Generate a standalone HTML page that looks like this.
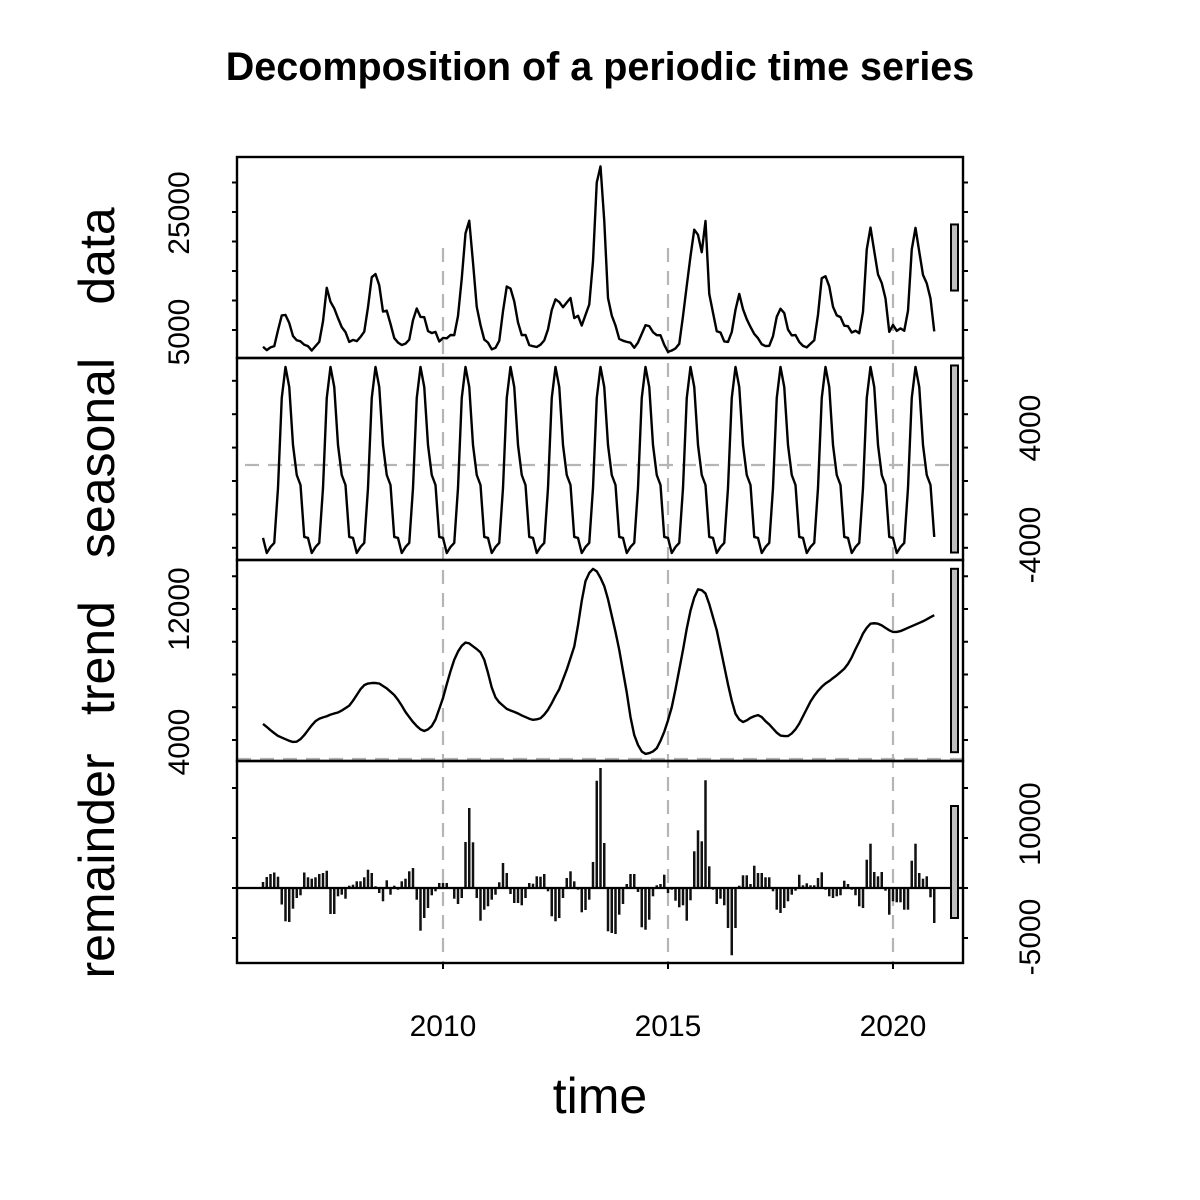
<!DOCTYPE html>
<html><head><meta charset="utf-8"><style>
html,body{margin:0;padding:0;background:#fff;}
svg{display:block;font-family:"Liberation Sans",Arial,sans-serif;}
</style></head><body>
<svg id="chart" width="1200" height="1200" viewBox="0 0 1200 1200">
<text x="600" y="80" text-anchor="middle" font-size="39.5" font-weight="bold">Decomposition of a periodic time series</text>
<g id="plot"></g>
</svg>
<script>
// ---- data ----
const startYear = 2006;
const seasonalPattern = [-3410,-4310,-3950,-3710,-420,4970,6830,5630,2160,360,-240,-3350];
const trendValues = [
4980,4800,4600,4420,4250,4150,4050,3950,3880,3900,4050,4300,
4600,4900,5150,5300,5380,5450,5550,5620,5680,5800,5950,6100,
6400,6750,7100,7350,7450,7480,7480,7450,7300,7150,6950,6750,
6450,6100,5710,5400,5100,4850,4650,4550,4650,4850,5250,5900,
6560,7400,8200,8900,9400,9750,9950,9900,9720,9550,9350,8900,
8100,7200,6600,6300,6100,5900,5800,5720,5620,5500,5400,5300,
5230,5260,5330,5550,5850,6250,6700,7100,7700,8300,9000,9700,
11000,12500,13700,14200,14450,14300,13900,13400,12600,11600,10600,9500,
8200,6900,5400,4300,3700,3300,3150,3200,3300,3500,3950,4500,
5200,6000,7100,8300,9500,10800,11900,12700,13200,13150,12950,12300,
11500,10700,9600,8500,7400,6400,5600,5250,5100,5200,5350,5450,
5520,5400,5150,4950,4700,4450,4270,4240,4240,4400,4650,5000,
5450,5900,6350,6700,7000,7250,7450,7600,7780,7950,8150,8350,
8650,9050,9550,10000,10500,10850,11100,11130,11100,11000,10850,10700,
10600,10600,10650,10750,10850,10950,11050,11150,11250,11370,11500,11620];
const remainderValues = [
600,1100,1400,1550,1130,-1650,-3330,-3400,-2070,-1000,-730,1550,
1070,930,1070,1400,1500,1730,-2600,-2600,-830,-670,-1070,230,
330,670,670,1070,1830,1500,170,-500,-1330,770,-670,230,
-170,670,930,1670,2000,-1170,-4270,-3000,-2000,-730,-330,500,
500,500,-100,-1070,-1600,-1000,4600,8000,4570,-1000,-3270,-2170,
-1830,-1170,-670,570,2500,1500,-600,-1500,-1500,-1730,-1000,500,
430,1170,1130,1400,-330,-2830,-3330,-3000,-1000,1000,1670,670,
-170,-2430,-2200,-1170,2600,10730,12000,4500,-4330,-4500,-4600,-2670,
-1600,400,1400,1400,-400,-3930,-4170,-3170,-830,270,400,1330,
-500,-170,-1270,-1930,-1730,-3270,-1230,3670,5770,4670,10770,2170,
-170,-1600,-1070,-1730,-4000,-6730,-4000,230,1270,1270,400,2230,
1500,1500,1070,1070,-330,-2170,-2500,-2000,-1330,-670,-270,1330,
270,470,270,270,1000,1570,-170,-830,-1000,-830,-730,730,
400,-170,-730,-1830,-2000,2830,4430,1600,1170,1600,-270,-2670,
-1330,-1430,-1430,-2170,-2170,2730,4430,1500,930,1170,-930,-3500];
const xTickYears = [2010, 2015, 2020];
const dataTicks = [5000,10000,15000,20000,25000,30000];
const dataTickLabels = ["5000","25000"];
const seasonalTicks = [-4000,-2000,0,2000,4000,6000];
const seasonalTickLabels = ["4000","-4000"];
const trendTicks = [4000,6000,8000,10000,12000,14000];
const trendTickLabels = ["12000","4000"];
const remainderTicks = [-5000,0,5000,10000];
const remainderTickLabels = ["10000","-5000"];
const rangeBarSize = 11200;

// ---- scales ----
const X0 = 237, X1 = 963;
function xScale(t){ return 443 + (t - 2010) * 45; }
function yData(v){ return 330 - (v - 5000) * 29.5 / 5000; }
function ySeasonal(v){ return 481 - v * 33.4 / 2000; }
function yTrend(v){ return 740 - (v - 4000) * 32.75 / 2000; }
function yRemainder(v){ return 888 - v * 0.01; }

const NS = "http://www.w3.org/2000/svg";
const plot = document.getElementById('plot');
function mk(tag, attrs, parent){
  const el = document.createElementNS(NS, tag);
  for (const k in attrs) el.setAttribute(k, attrs[k]);
  (parent || plot).appendChild(el);
  return el;
}
const N = trendValues.length;
const seasonalValues = [], dataValues = [], times = [];
for (let i = 0; i < N; i++) {
  times.push(startYear + i / 12);
  seasonalValues.push(seasonalPattern[i % 12]);
  dataValues.push(seasonalPattern[i % 12] + trendValues[i] + remainderValues[i]);
}

// grid dashed lines
const dash = {stroke:'#b5b5b5','stroke-width':2.2,'stroke-dasharray':'14 9',fill:'none'};
xTickYears.forEach(yr => {
  const g = mk('line', Object.assign({x1:xScale(yr),x2:xScale(yr),y1:248,y2:963}, dash));
  
  
});
let hg = mk('line', Object.assign({x1:245,x2:950,y1:465,y2:465}, dash));


hg = mk('line', Object.assign({x1:X0,x2:X1,y1:759,y2:759}, dash));



function linePath(vals, yf){
  return vals.map((v,i)=>(i?'L':'M')+xScale(times[i]).toFixed(2)+' '+yf(v).toFixed(2)).join(' ');
}
const lineStyle = {fill:'none',stroke:'#000','stroke-width':2.4,'stroke-linejoin':'round'};
let p = mk('path', Object.assign({d:linePath(dataValues,yData)}, lineStyle));


p = mk('path', Object.assign({d:linePath(seasonalValues,ySeasonal)}, lineStyle));


p = mk('path', Object.assign({d:linePath(trendValues,yTrend)}, lineStyle));



// remainder bars
remainderValues.forEach((v,i) => {
  const x = xScale(times[i]);
  const b = mk('line', {x1:x,x2:x,y1:yRemainder(0),y2:yRemainder(v),stroke:'#111','stroke-width':2.5});
  
  
});
let z = mk('line', {x1:X0,x2:X1,y1:yRemainder(0),y2:yRemainder(0),stroke:'#000','stroke-width':2.2});



// panels
const panels = [
  {name:'data', top:157, bot:358, yf:yData, ticks:dataTicks, label:'data', ly:256},
  {name:'seasonal', top:358, bot:560, yf:ySeasonal, ticks:seasonalTicks, label:'seasonal', ly:458},
  {name:'trend', top:560, bot:761, yf:yTrend, ticks:trendTicks, label:'trend', ly:658},
  {name:'remainder', top:761, bot:963, yf:yRemainder, ticks:remainderTicks, label:'remainder', ly:866}
];
panels.forEach(pn => {
  const r = mk('rect', {x:X0,y:pn.top,width:X1-X0,height:pn.bot-pn.top,fill:'none',stroke:'#000','stroke-width':2.4});
  
  
  pn.ticks.forEach(t => {
    const y = pn.yf(t);
    const tl = mk('line', {x1:X0-5,x2:X0,y1:y,y2:y,stroke:'#000','stroke-width':2});
    
    
    const tr = mk('line', {x1:X1,x2:X1+5,y1:y,y2:y,stroke:'#000','stroke-width':2});
    
    
  });
  // range bar
  const mid = (pn.top + pn.bot) / 2;
  const h = Math.abs(pn.yf(rangeBarSize) - pn.yf(0));
  const rb = mk('rect', {x:951,y:mid-h/2,width:7,height:h,fill:'#bebebe',stroke:'#000','stroke-width':2});
  
  
  const lt = mk('text', {x:0,y:0,'font-size':50,'text-anchor':'middle',transform:`translate(114,${pn.ly}) rotate(-90)`});
  lt.textContent = pn.label;
  
  
});

// rotated tick labels
function rotLabel(txt, x, y, name){
  const t = mk('text', {x:0,y:0,'font-size':30,'text-anchor':'middle',transform:`translate(${x},${y}) rotate(-90)`});
  t.textContent = txt;
  
  
}
rotLabel(dataTickLabels[0], 189, 332, 'data-tick-label-low');
rotLabel(dataTickLabels[1], 189, 213, 'data-tick-label-high');
rotLabel(seasonalTickLabels[0], 1040, 428, 'seasonal-tick-label-high');
rotLabel(seasonalTickLabels[1], 1040, 545, 'seasonal-tick-label-low');
rotLabel(trendTickLabels[0], 189, 609, 'trend-tick-label-high');
rotLabel(trendTickLabels[1], 189, 742, 'trend-tick-label-low');
rotLabel(remainderTickLabels[0], 1040, 824, 'remainder-tick-label-high');
rotLabel(remainderTickLabels[1], 1040, 937, 'remainder-tick-label-low');

// x axis
xTickYears.forEach(yr => {
  const x = xScale(yr);
  const tk = mk('line', {x1:x,x2:x,y1:963,y2:969,stroke:'#000','stroke-width':2});
  
  
  const tl = mk('text', {x:x,y:1036,'font-size':30,'text-anchor':'middle'});
  tl.textContent = String(yr);
  
  
});
const xt = mk('text', {x:600,y:1113,'font-size':50,'text-anchor':'middle'});
xt.textContent = 'time';


</script>
</body></html>
